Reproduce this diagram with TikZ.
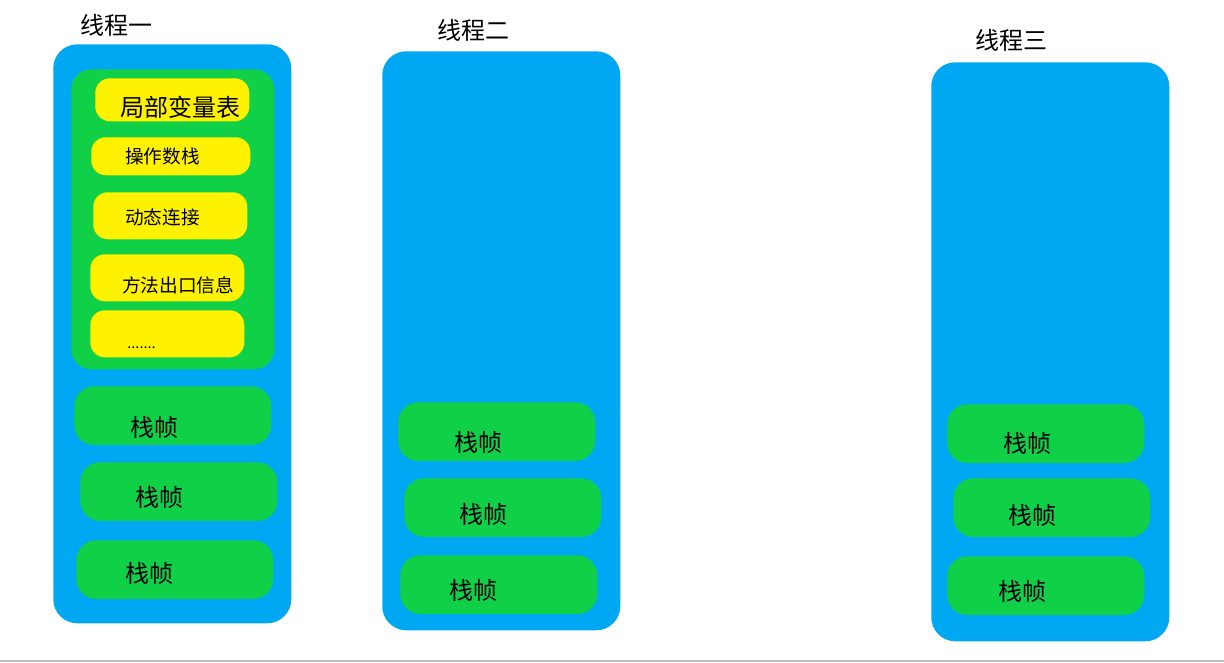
\documentclass[tikz,border=0pt]{standalone}
\usepackage{fontspec}
\setmainfont{Noto Sans CJK SC}
\usepackage{tikz}
\usetikzlibrary{positioning}
\definecolor{thblue}{RGB}{0,168,243}
\definecolor{frgreen}{RGB}{16,208,72}
\definecolor{slyellow}{RGB}{255,242,0}

\begin{document}
\begin{tikzpicture}[x=0.75pt,y=-0.75pt,
 thread/.style={fill=thblue,rounded corners=18pt,anchor=north west,inner sep=0pt,
  minimum width=178.5pt,minimum height=434.25pt},
 frame/.style={fill=frgreen,rounded corners=15pt,anchor=north west,inner sep=0pt,
  minimum width=147.75pt,minimum height=44pt},
 slot/.style={fill=slyellow,rounded corners=11pt,anchor=north west,inner sep=0pt,
  minimum width=115.5pt,minimum height=35.25pt},
 big/.style={anchor=west,inner sep=0pt,font=\fontsize{18}{20}\selectfont},
 small/.style={anchor=west,inner sep=0pt,font=\fontsize{14}{16}\selectfont}]
\useasboundingbox (0,0) rectangle (1224,662);
% threads
\node[thread] (t1) at (53,44) {};
\node[thread] (t2) at (382,51) {};
\node[thread] (t3) at (931,62) {};
\node[big] (n1) at (80,25) {线程一};
\node[big] (n2) at (437,30) {线程二};
\node[big] (n3) at (975,40) {线程三};
% thread one: the open frame
\node[frame,minimum width=152.25pt,minimum height=225pt] (cur) at (71,69) {};
\node[slot,minimum height=32.25pt] (s1) at (95,78) {};
\node[slot,minimum width=119.25pt,minimum height=28.5pt] (s2) at (91,137) {};
\node[slot] (s3) at (93,192) {};
\node[slot] (s4) at (90,254) {};
\node[slot] (s5) at (90,310) {};
\node[big] (l1) at (120,107) {局部变量表};
\node[small] (l2) at (125,156) {操作数栈};
\node[small] (l3) at (125,217) {动态连接};
\node[small] (l4) at (122,285) {方法出口信息};
\node[small,font=\fontsize{11}{13}\selectfont] (l5) at (127,348) {.......};
% thread one: frames
\node[frame] (f11) at (74,386) {};
\node[frame] (f12) at (80,462) {};
\node[frame] (f13) at (76,540) {};
\node[big] at (130,427) {栈帧};
\node[big] at (135,497) {栈帧};
\node[big] at (125,573) {栈帧};
% thread two
\node[frame] (f21) at (398,402) {};
\node[frame] (f22) at (404,478) {};
\node[frame] (f23) at (400,555) {};
\node[big] at (454,442) {栈帧};
\node[big] at (459,514) {栈帧};
\node[big] at (449,590) {栈帧};
% thread three
\node[frame] (f31) at (947,404) {};
\node[frame] (f32) at (953,478) {};
\node[frame] (f33) at (947,556) {};
\node[big] at (1003,443) {栈帧};
\node[big] at (1008,515) {栈帧};
\node[big] at (998,591) {栈帧};
\draw[line width=1.5pt,gray!50] (0,661) -- (1224,661);
\end{tikzpicture}
\end{document}
